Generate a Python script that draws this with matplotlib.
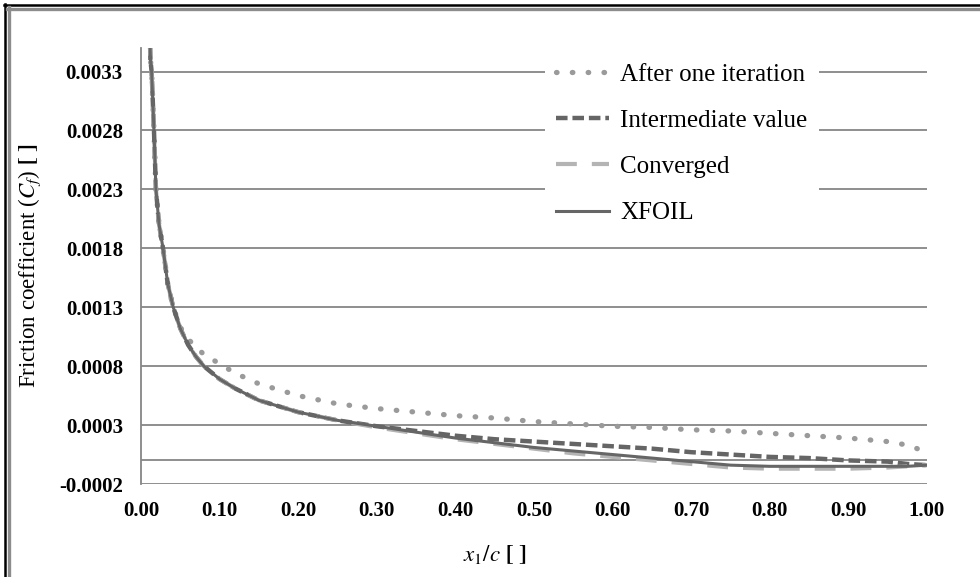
import matplotlib
matplotlib.use("Agg")
import matplotlib.pyplot as plt
from matplotlib.lines import Line2D

plt.rcParams['font.family'] = ['Liberation Serif', 'DejaVu Serif']
plt.rcParams['mathtext.fontset'] = 'stix'

# x/c stations
x = [0.008, 0.010, 0.012, 0.0135, 0.0165, 0.019, 0.023, 0.028, 0.034, 0.041,
     0.05, 0.06, 0.07, 0.08, 0.10, 0.12, 0.15, 0.20, 0.25, 0.30, 0.35, 0.40,
     0.45, 0.50, 0.55, 0.60, 0.65, 0.70, 0.75, 0.80, 0.85, 0.90, 0.95, 0.975, 1.00]

# shared leading-edge part (identical for all four curves)
lead = [0.0048, 0.0040, 0.0034, 0.0033, 0.0028, 0.0023, 0.0020, 0.0018, 0.0015, 0.0013,
        0.00112, 0.00098]

xfoil = lead + [0.00088, 0.00080, 0.00069, 0.00061, 0.00051, 0.00041, 0.00034, 0.00029,
                0.00024, 0.00019, 0.00015, 0.00011, 0.00008, 0.00005, 0.00002, -0.00001,
                -0.00004, -0.00005, -0.00005, -0.00005, -0.00005, -0.00005, -0.00004]

converged = lead + [0.00088, 0.00080, 0.00069, 0.00061, 0.00051, 0.00041, 0.00034, 0.00028,
                    0.00023, 0.00018, 0.00014, 0.00010, 0.00006, 0.00003, 0.00000, -0.00003,
                    -0.00006, -0.00007, -0.00007, -0.00007, -0.00006, -0.00005, -0.00004]

intermediate = lead + [0.00088, 0.00080, 0.00069, 0.00061, 0.00051, 0.00041, 0.00034, 0.00029,
                       0.00025, 0.00021, 0.00018, 0.00016, 0.00014, 0.00012, 0.00010, 0.00007,
                       0.00005, 0.00003, 0.00002, 0.00000, -0.00001, -0.00003, -0.00004]

after_one = [0.0048, 0.0040, 0.0034, 0.0033, 0.0028, 0.0023, 0.0020, 0.0018, 0.0015, 0.0013,
             0.00113, 0.00103, 0.00096, 0.00090, 0.00082, 0.00074, 0.00065, 0.00055,
             0.00048, 0.00044, 0.00041, 0.00038, 0.00036, 0.00033, 0.00031, 0.00029,
             0.00028, 0.00026, 0.00025, 0.00023, 0.00021, 0.00019, 0.00016, 0.00013, 0.00007]

labels = ["After one iteration", "Intermediate value", "Converged", "XFOIL"]
yticks = [-0.0002, 0.0003, 0.0008, 0.0013, 0.0018, 0.0023, 0.0028, 0.0033]
xticks = [0.0, 0.1, 0.2, 0.3, 0.4, 0.5, 0.6, 0.7, 0.8, 0.9, 1.0]

fig = plt.figure(figsize=(9.8, 5.77), dpi=100)
ax = fig.add_axes([141 / 980, 1 - 484 / 577, 786 / 980, 436 / 577])

grid_c = '#868686'
for yt in yticks + [0.0]:
    ax.axhline(yt, color=grid_c, lw=1.3, zorder=1)

ax.plot(x, after_one, color='#9a9a9a', lw=3.8, linestyle=(0, (0.1, 2.9)),
        dash_capstyle='round', label=labels[0], zorder=3)
ax.plot(x, intermediate, color='#656565', lw=3.2, linestyle=(0, (2.6, 1.1)),
        label=labels[1], zorder=3)
ax.plot(x, converged, color='#b4b4b4', lw=3.0, linestyle=(0, (5.0, 3.6)),
        label=labels[2], zorder=4)
ax.plot(x, xfoil, color='#666666', lw=2.2, label=labels[3], zorder=5)

ax.set_xlim(0, 1)
ax.set_ylim(-0.0002, 0.0035)
ax.set_xticks(xticks)
ax.set_xticklabels([f"{v:.2f}" for v in xticks])
ax.set_yticks(yticks)
ax.set_yticklabels([f"{v:.4f}" for v in yticks])
ax.tick_params(length=0, labelsize=15)
ax.tick_params(axis='y', pad=13)
ax.tick_params(axis='x', pad=12)
for t in ax.get_xticklabels() + ax.get_yticklabels():
    t.set_fontweight('bold')

for s in ['top', 'right', 'bottom']:
    ax.spines[s].set_visible(False)
ax.spines['left'].set_color(grid_c)
ax.spines['left'].set_linewidth(1.3)

ax.set_ylabel(r"Friction coefficient ($C_f$) $\mathbf{[\ ]}$", fontsize=16.5)
ax.yaxis.set_label_coords(-0.125, 0.5)
ax.set_xlabel(r"$x_1/c$ $\mathbf{[\ ]}$", fontsize=16.5)
ax.xaxis.set_label_coords(0.45, -0.135)

leg = ax.legend(loc='upper right', bbox_to_anchor=(0.878, 1.02), fontsize=18,
                frameon=True, facecolor='white', edgecolor='none', framealpha=1,
                fancybox=False, labelspacing=0.95, handlelength=2.1, handletextpad=0.45,
                borderpad=0.45)
leg.set_zorder(6)

# chart frame (left and top edges only)
fig.add_artist(Line2D([5 / 980, 5 / 980], [0, 1 - 4 / 577], color='black', lw=1.8,
                      transform=fig.transFigure))
fig.add_artist(Line2D([4 / 980, 1], [1 - 5 / 577, 1 - 5 / 577], color='black', lw=1.8,
                      transform=fig.transFigure))
fig.add_artist(Line2D([8.5 / 980, 8.5 / 980], [0, 1 - 7 / 577], color='#8c8c8c', lw=2.4,
                      transform=fig.transFigure))
fig.add_artist(Line2D([7 / 980, 1], [1 - 8.5 / 577, 1 - 8.5 / 577], color='#8c8c8c', lw=2.4,
                      transform=fig.transFigure))

fig.savefig("out.png", dpi=100, facecolor='white')
